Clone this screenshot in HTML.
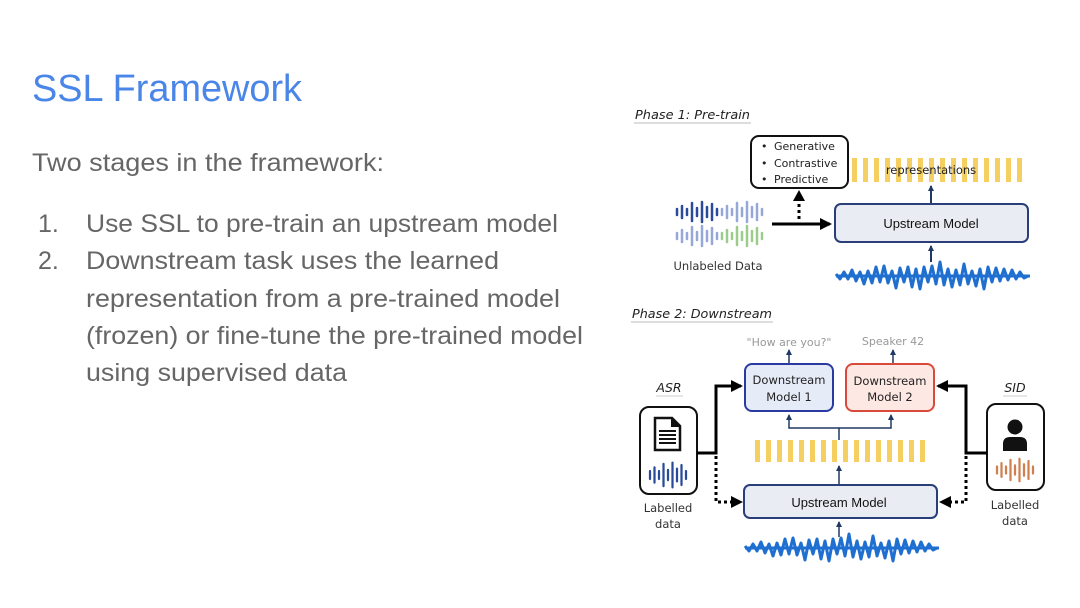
<!DOCTYPE html>
<html><head><meta charset="utf-8"><style>
html,body{margin:0;padding:0;background:#fff}
svg{display:block}
</style></head><body>
<svg width="1080" height="608" viewBox="0 0 1080 608" xmlns="http://www.w3.org/2000/svg">
<defs>
<marker id="ah" markerWidth="6" markerHeight="6" refX="5" refY="3" orient="auto" markerUnits="userSpaceOnUse"><path d="M0,0 L6,3 L0,6 z" fill="#1f3864"/></marker>
<marker id="ahb" markerWidth="12" markerHeight="12" refX="10" refY="6" orient="auto" markerUnits="userSpaceOnUse"><path d="M0,0 L12,6 L0,12 z" fill="#000"/></marker>
<g id="wave"><polyline fill="none" stroke="#1f6fd0" stroke-width="3" stroke-linejoin="round" points="836,274 840,279 844,272 848,279 852,270 856,281 860,272 864,284 868,271 872,283 876,267 880,282 884,266 888,283 892,271 896,288 900,268 904,282 908,267 912,287 916,269 920,289 924,267 928,282 932,266 936,284 940,262 944,285 948,269 952,287 956,270 960,285 964,264 968,284 972,271 976,286 980,269 984,289 988,267 992,282 996,268 1000,281 1004,269 1008,280 1012,270 1016,279 1020,272 1024,278 1028,276"/><line x1="836" y1="276" x2="1030" y2="276" stroke="#1f6fd0" stroke-width="3"/></g>
<g id="sw" stroke-width="2.5" stroke-linecap="round"><path d="M0,-3V3M5,-6V6M10,-3V3M15,-9V9M20,-4V4M25,-10V10M30,-5V5M35,-8V8M40,-3V3"/></g>
</defs>

<!-- left text -->
<text x="32" y="101" font-family="Liberation Sans, sans-serif" font-size="38" fill="#4a86e8" textLength="270" lengthAdjust="spacingAndGlyphs">SSL Framework</text>
<g font-family="Liberation Sans, sans-serif" font-size="25" fill="#666">
<text x="32" y="171" textLength="352" lengthAdjust="spacingAndGlyphs">Two stages in the framework:</text>
<text x="38" y="232">1.</text>
<text x="38" y="269">2.</text>
<text x="86" y="232" textLength="472" lengthAdjust="spacingAndGlyphs">Use SSL to pre-train an upstream model</text>
<text x="86" y="269" textLength="413" lengthAdjust="spacingAndGlyphs">Downstream task uses the learned</text>
<text x="86" y="307" textLength="474" lengthAdjust="spacingAndGlyphs">representation from a pre-trained model</text>
<text x="86" y="344" textLength="497" lengthAdjust="spacingAndGlyphs">(frozen) or fine-tune the pre-trained model</text>
<text x="86" y="381" textLength="261" lengthAdjust="spacingAndGlyphs">using supervised data</text>
</g>

<!-- Phase 1 -->
<g font-family="DejaVu Sans, Liberation Sans, sans-serif">
<text x="635" y="119" font-size="12.5" font-style="italic" fill="#222" textLength="115" lengthAdjust="spacingAndGlyphs">Phase 1: Pre-train</text>
<line x1="634" y1="123" x2="751" y2="123" stroke="#bbb" stroke-width="1"/>
<rect x="751" y="136" width="97" height="52" rx="8" fill="#fff" stroke="#111" stroke-width="2"/>
<g font-size="11" fill="#222"><text x="761" y="150">•</text><text x="774" y="150">Generative</text>
<text x="761" y="167">•</text><text x="774" y="167">Contrastive</text>
<text x="761" y="183">•</text><text x="774" y="183">Predictive</text></g>
<g fill="#f5d060">
<rect x="852" y="158" width="5" height="24"/><rect x="863" y="158" width="5" height="24"/><rect x="874" y="158" width="5" height="24"/><rect x="885" y="158" width="5" height="24"/><rect x="896" y="158" width="5" height="24"/><rect x="907" y="158" width="5" height="24"/><rect x="918" y="158" width="5" height="24"/><rect x="929" y="158" width="5" height="24"/><rect x="940" y="158" width="5" height="24"/><rect x="951" y="158" width="5" height="24"/><rect x="962" y="158" width="5" height="24"/><rect x="973" y="158" width="5" height="24"/><rect x="984" y="158" width="5" height="24"/><rect x="995" y="158" width="5" height="24"/><rect x="1006" y="158" width="5" height="24"/><rect x="1017" y="158" width="5" height="24"/></g>
<text x="931" y="174" font-size="11.5" fill="#222" text-anchor="middle">representations</text>
<line x1="931" y1="204" x2="931" y2="186" stroke="#1f3864" stroke-width="2" marker-end="url(#ah)"/>
<rect x="835" y="204" width="193" height="38" rx="6" fill="#e9ecf2" stroke="#2a3f7a" stroke-width="2"/>
<text x="931" y="228" font-family="Liberation Sans, sans-serif" font-size="13" fill="#111" text-anchor="middle">Upstream Model</text>
<line x1="931" y1="262" x2="931" y2="246" stroke="#1f3864" stroke-width="2" marker-end="url(#ah)"/>
<use href="#wave"/>
<use href="#sw" stroke="#2a4b9a" transform="translate(677,212)"/>
<use href="#sw" stroke="#95a8d8" transform="translate(722,212)"/>
<use href="#sw" stroke="#95a8d8" transform="translate(677,236)"/>
<use href="#sw" stroke="#9ccc8a" transform="translate(722,236)"/>
<text x="718" y="270" font-size="11.5" fill="#333" text-anchor="middle">Unlabeled Data</text>
<line x1="772" y1="224" x2="830" y2="224" stroke="#000" stroke-width="3" marker-end="url(#ahb)"/>
<line x1="799" y1="219" x2="799" y2="200" stroke="#000" stroke-width="3" stroke-dasharray="3,3"/>
<path d="M793,201 L799,190 L805,201 z" fill="#000"/>

<!-- Phase 2 -->
<text x="632" y="318" font-size="12.5" font-style="italic" fill="#222" textLength="140" lengthAdjust="spacingAndGlyphs">Phase 2: Downstream</text>
<line x1="631" y1="322" x2="773" y2="322" stroke="#bbb" stroke-width="1"/>
<text x="789" y="346" font-size="11" fill="#999" text-anchor="middle">"How are you?"</text>
<text x="893" y="345" font-size="11" fill="#999" text-anchor="middle">Speaker 42</text>
<line x1="789" y1="364" x2="789" y2="350" stroke="#1f3864" stroke-width="1.5" marker-end="url(#ah)"/>
<line x1="893" y1="364" x2="893" y2="350" stroke="#1f3864" stroke-width="1.5" marker-end="url(#ah)"/>
<rect x="745" y="364" width="88" height="47" rx="7" fill="#e6ebf8" stroke="#2b3aa0" stroke-width="2"/>
<rect x="846" y="364" width="88" height="47" rx="7" fill="#fde8e4" stroke="#d94a3a" stroke-width="2"/>
<g font-size="11.5" fill="#222" text-anchor="middle">
<text x="789" y="384">Downstream</text><text x="789" y="401">Model 1</text>
<text x="890" y="385">Downstream</text><text x="890" y="401">Model 2</text></g>
<polyline points="839,440 839,428 789,428 789,415" fill="none" stroke="#1f3864" stroke-width="1.5" marker-end="url(#ah)"/>
<polyline points="839,428 891,428 891,415" fill="none" stroke="#1f3864" stroke-width="1.5" marker-end="url(#ah)"/>
<g fill="#f5d060">
<rect x="755" y="440" width="5" height="22"/><rect x="766" y="440" width="5" height="22"/><rect x="777" y="440" width="5" height="22"/><rect x="788" y="440" width="5" height="22"/><rect x="799" y="440" width="5" height="22"/><rect x="810" y="440" width="5" height="22"/><rect x="821" y="440" width="5" height="22"/><rect x="832" y="440" width="5" height="22"/><rect x="843" y="440" width="5" height="22"/><rect x="854" y="440" width="5" height="22"/><rect x="865" y="440" width="5" height="22"/><rect x="876" y="440" width="5" height="22"/><rect x="887" y="440" width="5" height="22"/><rect x="898" y="440" width="5" height="22"/><rect x="909" y="440" width="5" height="22"/><rect x="920" y="440" width="5" height="22"/></g>
<line x1="839" y1="485" x2="839" y2="466" stroke="#1f3864" stroke-width="1.5" marker-end="url(#ah)"/>
<rect x="744" y="485" width="193" height="33" rx="6" fill="#e9ecf2" stroke="#2a3f7a" stroke-width="2"/>
<text x="839" y="507" font-family="Liberation Sans, sans-serif" font-size="13" fill="#111" text-anchor="middle">Upstream Model</text>
<line x1="839" y1="537" x2="839" y2="522" stroke="#1f3864" stroke-width="1.5" marker-end="url(#ah)"/>
<use href="#wave" transform="translate(-91,272)"/>

<!-- ASR -->
<text x="669" y="392" font-size="12.5" font-style="italic" fill="#222" text-anchor="middle">ASR</text>
<line x1="656" y1="396" x2="683" y2="396" stroke="#ccc" stroke-width="1"/>
<rect x="640" y="407" width="57" height="87" rx="9" fill="#fff" stroke="#111" stroke-width="2"/>
<path d="M655,418 H672 L680,426 V450 H655 z" fill="#fff" stroke="#111" stroke-width="2.5"/>
<path d="M671,418 V427 H680 z" fill="#111"/>
<path d="M659,431H676M659,435H676M659,439H676M659,443H676" stroke="#111" stroke-width="2"/>
<use href="#sw" stroke="#2a4b9a" transform="translate(650,475) scale(0.9,1.2)"/>
<text x="668" y="512" font-size="11.5" fill="#333" text-anchor="middle">Labelled</text>
<text x="668" y="528" font-size="11.5" fill="#333" text-anchor="middle">data</text>
<polyline points="697,453 716,453 716,386 741,386" fill="none" stroke="#000" stroke-width="3" marker-end="url(#ahb)"/>
<polyline points="716,456 716,502 732,502" fill="none" stroke="#000" stroke-width="3" stroke-dasharray="3,3"/>
<path d="M731,496 L743,502 L731,508 z" fill="#000"/>

<!-- SID -->
<text x="1015" y="392" font-size="12.5" font-style="italic" fill="#222" text-anchor="middle">SID</text>
<line x1="1003" y1="396" x2="1027" y2="396" stroke="#ccc" stroke-width="1"/>
<rect x="987" y="404" width="57" height="86" rx="9" fill="#fff" stroke="#111" stroke-width="2"/>
<circle cx="1015" cy="427" r="7.5" fill="#111"/>
<path d="M1003,451 V444 Q1003,437 1010,437 H1020 Q1027,437 1027,444 V451 z" fill="#111"/>
<use href="#sw" stroke="#d08050" transform="translate(997,470) scale(0.9,1.1)"/>
<text x="1015" y="509" font-size="11.5" fill="#333" text-anchor="middle">Labelled</text>
<text x="1015" y="525" font-size="11.5" fill="#333" text-anchor="middle">data</text>
<polyline points="987,453 966,453 966,386 938,386" fill="none" stroke="#000" stroke-width="3" marker-end="url(#ahb)"/>
<polyline points="966,456 966,502 950,502" fill="none" stroke="#000" stroke-width="3" stroke-dasharray="3,3"/>
<path d="M951,496 L939,502 L951,508 z" fill="#000"/>
</g>
</svg>
</body></html>
